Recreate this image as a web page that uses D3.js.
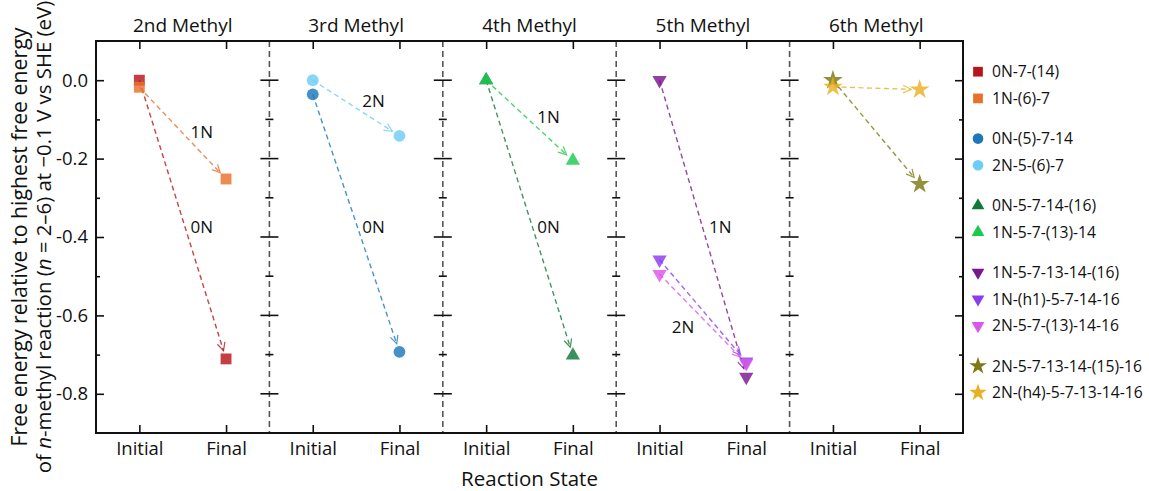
<!DOCTYPE html>
<html>
<head>
<meta charset="utf-8">
<script src="https://cdn.jsdelivr.net/npm/d3@7"></script>
<style>
  html, body { margin: 0; padding: 0; background: #fff; }
  svg { display: block; font-family: "Open Sans", "DejaVu Sans", sans-serif; }
</style>
</head>
<body>
<svg id="chart" width="1149" height="491"></svg>
<script>
// Panels (n-th methylation step) and the two reaction states shown in each
const panels = ["2nd Methyl", "3rd Methyl", "4th Methyl", "5th Methyl", "6th Methyl"];
const states = ["Initial", "Final"];

// Pathways: name, panel, colour, marker, free energies (eV)
const seriesNames = [
  "0N-7-(14)", "1N-(6)-7",
  "0N-(5)-7-14", "2N-5-(6)-7",
  "0N-5-7-14-(16)", "1N-5-7-(13)-14",
  "1N-5-7-13-14-(16)", "1N-(h1)-5-7-14-16", "2N-5-7-(13)-14-16",
  "2N-5-7-13-14-(15)-16", "2N-(h4)-5-7-13-14-16"
];
const seriesPanel = [0, 0, 1, 1, 2, 2, 3, 3, 3, 4, 4];
const initialEnergy = [0.000, -0.018, -0.036, 0.000, 0.000, 0.000, 0.000, -0.458, -0.495, 0.000, -0.017];
const finalEnergy   = [-0.711, -0.252, -0.693, -0.142, -0.702, -0.205, -0.757, -0.718, -0.722, -0.265, -0.024];
const seriesColors = [
  "#b8141c", "#e8702c",
  "#1c78b8", "#6ccdf7",
  "#10793a", "#1bc94c",
  "#7a168c", "#8a3cf0", "#d957ea",
  "#7d7914", "#e9b022"
];
const seriesShapes = ["square", "square", "circle", "circle", "up", "up", "down", "down", "down", "star", "star"];
// legend groups (one per panel)
const legendGroup = seriesPanel;

// Path labels: text, panel position (x units), energy (eV)
const pathLabels = ["1N", "0N", "2N", "0N", "1N", "0N", "1N", "2N"];
const pathLabelX = [0.61, 0.61, 1.60, 1.60, 2.61, 2.61, 3.60, 3.385];
const pathLabelY = [-0.133, -0.375, -0.054, -0.375, -0.094, -0.375, -0.375, -0.629];

// Axis ticks
const yMajorTicks = [0.0, -0.2, -0.4, -0.6, -0.8];
const yMinorTicks = [-0.1, -0.3, -0.5, -0.7];
const stateOffsets = [0.25, 0.75];

const yTitleLine1 = "Free energy relative to highest free energy";
const xTitle = "Reaction State";

// ---- layout ----
const svg = d3.select("#chart");
const margin = { left: 96, right: 186, top: 41, bottom: 58 };
const W = 1149, H = 491;
const x0 = margin.left, x1 = W - margin.right, y0 = margin.top, y1 = H - margin.bottom;

const x = d3.scaleLinear().domain([0, panels.length]).range([x0, x1]);
const y = d3.scaleLinear().domain([-0.9, 0.1]).range([y1, y0]);

const stateX = [];
panels.forEach((p, i) => stateOffsets.forEach((o, j) => stateX.push({ v: i + o, label: states[j] })));

const fmt = d => (Math.abs(d) < 1e-9 ? "0.0" : d.toFixed(1));

// panel separators (dashed)
const seps = d3.range(1, panels.length);
svg.append("g").selectAll("line").data(seps).join("line")
  .attr("x1", d => x(d)).attr("x2", d => x(d))
  .attr("y1", y0).attr("y2", y1)
  .attr("stroke", "#555").attr("stroke-width", 1.6)
  .attr("stroke-dasharray", "6,4");

// ticks on separators (both sides)
const sepTicks = svg.append("g").attr("stroke", "#111").attr("stroke-width", 1.6);
seps.forEach(s => {
  yMajorTicks.forEach(t => sepTicks.append("line")
    .attr("x1", x(s) - 9).attr("x2", x(s) + 9).attr("y1", y(t)).attr("y2", y(t)));
  yMinorTicks.forEach(t => sepTicks.append("line")
    .attr("x1", x(s) - 4).attr("x2", x(s) + 4).attr("y1", y(t)).attr("y2", y(t)));
});

// left axis with labels
svg.append("g").attr("transform", `translate(${x0},0)`)
  .call(d3.axisLeft(y).tickValues(yMajorTicks).tickSizeInner(-8).tickSizeOuter(0)
    .tickPadding(8).tickFormat(fmt));
svg.append("g").attr("transform", `translate(${x0},0)`)
  .call(d3.axisLeft(y).tickValues(yMinorTicks).tickSizeInner(-4).tickSizeOuter(0).tickFormat(""));
// right axis
svg.append("g").attr("transform", `translate(${x1},0)`)
  .call(d3.axisRight(y).tickValues(yMajorTicks).tickSizeInner(-8).tickSizeOuter(0).tickFormat(""));
svg.append("g").attr("transform", `translate(${x1},0)`)
  .call(d3.axisRight(y).tickValues(yMinorTicks).tickSizeInner(-4).tickSizeOuter(0).tickFormat(""));
// top axis
svg.append("g").attr("transform", `translate(0,${y0})`)
  .call(d3.axisTop(x).tickValues(stateX.map(d => d.v)).tickSizeInner(-8).tickSizeOuter(0).tickFormat(""));
// bottom axis with state labels
svg.append("g").attr("transform", `translate(0,${y1})`)
  .call(d3.axisBottom(x).tickValues(stateX.map(d => d.v)).tickSizeInner(-8).tickSizeOuter(0)
    .tickPadding(9).tickFormat((d, i) => stateX[i].label));

svg.selectAll(".domain").remove();
svg.selectAll(".tick line").attr("stroke", "#111").attr("stroke-width", 1.6);
svg.selectAll(".tick text").attr("fill", "#111").attr("font-family", "Open Sans").attr("font-size", 18.5);

// frame
svg.append("rect").attr("x", x0).attr("y", y0).attr("width", x1 - x0).attr("height", y1 - y0)
  .attr("fill", "none").attr("stroke", "#111").attr("stroke-width", 2);

// panel titles
svg.append("g").selectAll("text").data(panels).join("text")
  .attr("x", (d, i) => x(i + 0.5)).attr("y", 32)
  .attr("text-anchor", "middle").attr("font-size", 19).attr("fill", "#111")
  .text(d => d);

// axis titles
svg.append("text").attr("transform", `translate(27,${(y0 + y1) / 2}) rotate(-90)`)
  .attr("text-anchor", "middle").attr("font-size", 21.3).attr("fill", "#111").text(yTitleLine1);
const yt2 = svg.append("text").attr("transform", `translate(51,${(y0 + y1) / 2}) rotate(-90)`)
  .attr("text-anchor", "middle").attr("font-size", 20.4).attr("fill", "#111");
yt2.append("tspan").text("of ");
yt2.append("tspan").attr("font-style", "italic").text("n");
yt2.append("tspan").text("-methyl reaction (");
yt2.append("tspan").attr("font-style", "italic").text("n");
yt2.append("tspan").text(" = 2\u20136) at \u22120.1 V vs SHE (eV)");

svg.append("text").attr("x", (x0 + x1) / 2).attr("y", 486)
  .attr("text-anchor", "middle").attr("font-size", 20.5).attr("fill", "#111").text(xTitle);

// marker generator
function markerPath(shape, scale) {
  const s = scale || 1;
  switch (shape) {
    case "square": return d3.symbol(d3.symbolSquare, 118 * s)();
    case "circle": return d3.symbol(d3.symbolCircle, 110 * s)();
    case "up":
    case "down": return d3.symbol(d3.symbolTriangle, 88 * s)();
    case "star": return d3.symbol(d3.symbolStar, 120 * s)();
  }
}
const rot = shape => (shape === "down" ? " rotate(180)" : "");

// dashed arrows from initial to final state
const arrows = svg.append("g").attr("fill", "none");
seriesNames.forEach((name, k) => {
  const p = seriesPanel[k];
  const ax = x(p + stateOffsets[0]), ay = y(initialEnergy[k]);
  const bx = x(p + stateOffsets[1]), by = y(finalEnergy[k]);
  const dx = bx - ax, dy = by - ay, L = Math.hypot(dx, dy);
  const ux = dx / L, uy = dy / L;
  const gap = 8.5;
  const ex = bx - ux * gap, ey = by - uy * gap;
  const col = seriesColors[k];
  arrows.append("line").attr("x1", ax).attr("y1", ay).attr("x2", ex).attr("y2", ey)
    .attr("stroke", col).attr("stroke-opacity", 0.8).attr("stroke-width", 1.4)
    .attr("stroke-dasharray", "5,3.5");
  const hl = 9, ang = 0.45;
  const h = [ang, -ang].map(a => {
    const c = Math.cos(a), s = Math.sin(a);
    const rx = -(ux * c - uy * s), ry = -(ux * s + uy * c);
    return [ex + rx * hl, ey + ry * hl];
  });
  arrows.append("path")
    .attr("d", `M${h[0][0]},${h[0][1]}L${ex},${ey}L${h[1][0]},${h[1][1]}`)
    .attr("stroke", col).attr("stroke-opacity", 0.8).attr("stroke-width", 1.2);
});

// markers: all initial/final points, drawn in series order
const marks = svg.append("g");
seriesNames.forEach((name, k) => {
  const p = seriesPanel[k];
  [[stateOffsets[0], initialEnergy[k]], [stateOffsets[1], finalEnergy[k]]].forEach(([o, e]) => {
    marks.append("path")
      .attr("d", markerPath(seriesShapes[k]))
      .attr("transform", `translate(${x(p + o)},${y(e)})${rot(seriesShapes[k])}`)
      .attr("fill", seriesColors[k]).attr("fill-opacity", 0.82);
  });
});

// path labels
svg.append("g").selectAll("text").data(pathLabels).join("text")
  .attr("x", (d, i) => x(pathLabelX[i])).attr("y", (d, i) => y(pathLabelY[i]))
  .attr("dy", "0.36em").attr("text-anchor", "middle")
  .attr("font-size", 17).attr("fill", "#111").text(d => d);

// legend
const legend = svg.append("g");
const rowH = 26.7, groupGap = 13.5, legTop = 71.7;
seriesNames.forEach((name, k) => {
  const ly = legTop + k * rowH + legendGroup[k] * groupGap;
  const g = legend.append("g").attr("transform", `translate(978,${ly})`);
  g.append("path").attr("d", markerPath(seriesShapes[k], 0.8))
    .attr("transform", rot(seriesShapes[k]).trim())
    .attr("fill", seriesColors[k]);
  g.append("text").attr("x", 14).attr("dy", "0.35em")
    .attr("font-size", 15.7).attr("fill", "#111").text(name);
});
</script>
</body>
</html>
